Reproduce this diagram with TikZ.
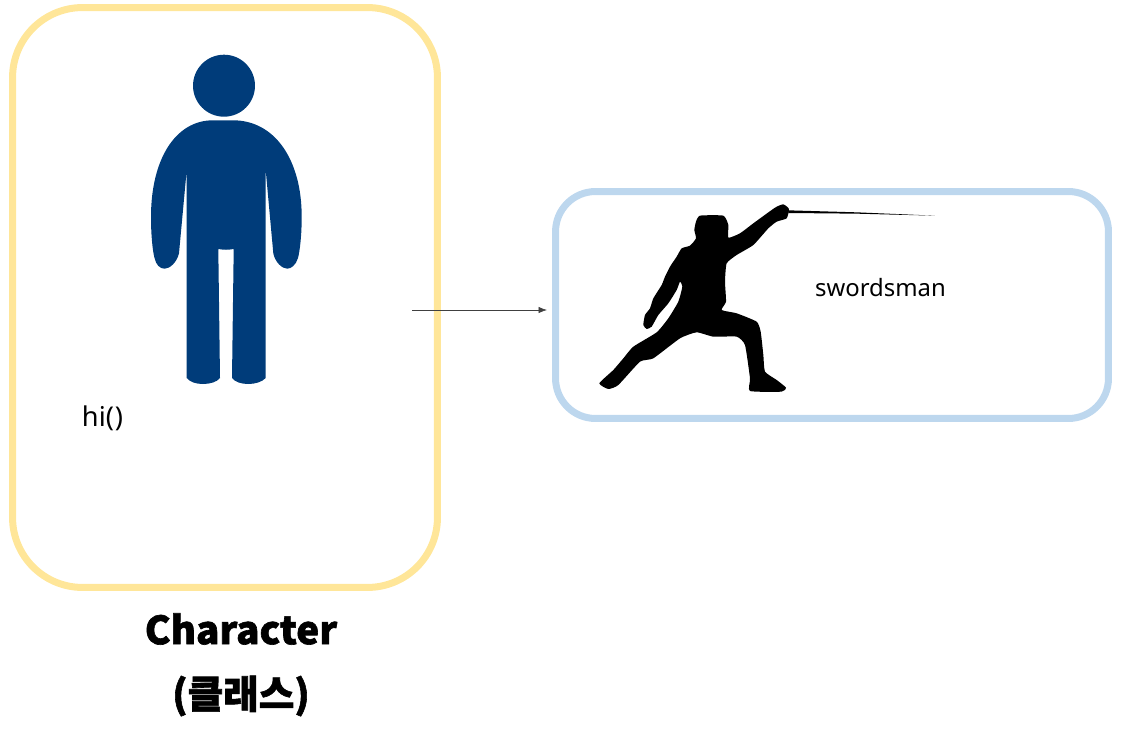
\documentclass[tikz,border=0pt]{standalone}
\usepackage{fontspec}
\setmainfont{Noto Sans}
\newfontfamily\cjk[BoldFeatures={FakeBold=1.6}]{Noto Sans CJK KR}
\usetikzlibrary{arrows.meta}
\definecolor{boxyellow}{HTML}{FFE699}
\definecolor{boxblue}{HTML}{BDD7EE}
\definecolor{personblue}{HTML}{003C7A}
\tikzset{
    roundbox/.style={draw, line width=0.14cm, fill=none, inner sep=0pt},
    plainlabel/.style={font=\fontsize{13.6}{17}\selectfont, inner sep=0pt},
    titlelabel/.style={font=\cjk\bfseries\fontsize{22}{26}\selectfont, inner sep=0pt}
}
\begin{document}
\begin{tikzpicture}[x=0.02cm, y=-0.02cm, >=Latex]
    \useasboundingbox (0,0) rectangle (1125,733);

    % --- Klasse links ---
    \node[roundbox, draw=boxyellow, rounded corners=1.4cm, minimum width=8.5cm, minimum height=11.6cm] (classbox) at (225,297.5) {};

    % Kopf und Koerper
    \fill[personblue] (224,85.7) circle (0.62cm);
    \fill[personblue] (213,120.3) -- (233,120.3)
        .. controls (275,120.3) and (301.7,160) .. (301.7,216.7)
        .. controls (301.7,235) and (300,250) .. (298,258)
        .. controls (296,265) and (291,268.7) .. (287.3,268.7)
        .. controls (282,268.7) and (275,262) .. (273.3,253.3)
        -- (265.7,170) -- (265.7,378)
        .. controls (262,382) and (255,384) .. (248.3,384)
        .. controls (241,384) and (235,382) .. (232,378)
        -- (233.7,249) .. controls (228,250) and (224,250) .. (218.3,249)
        -- (220,378)
        .. controls (217,382) and (210,384) .. (203,384)
        .. controls (196,384) and (190,382) .. (186.7,378)
        -- (186.7,170) -- (179,253.3)
        .. controls (177,262) and (170,268.7) .. (164.7,268.7)
        .. controls (160,268.7) and (156,265) .. (154.5,258)
        .. controls (152.5,250) and (151,235) .. (151,216.7)
        .. controls (151,160) and (175,120.3) .. (213,120.3) -- cycle;

    \node[plainlabel, font=\fontsize{15.5}{18}\selectfont] (hilabel) at (102.5,418) {hi(\kern0.5pt)};
    \node[titlelabel] (titlename) at (241,629) {Character};
    \node[titlelabel] (titlekind) at (241,696) {(클래스)};

    % --- Objekt rechts ---
    \node[roundbox, draw=boxblue, rounded corners=0.8cm, minimum width=11.06cm, minimum height=4.54cm] (swordbox) at (832,305) {};

    % Fechter
    \begin{scope}[shift={(590,195)}, x=0.00667cm, y=-0.00667cm]
        \fill[black] plot[smooth cycle, tension=0.3] coordinates {
            (330,62) (400,62) (415,90) (415,128) (450,115) (490,85) (555,38) (580,28)
            (597,42) (590,70) (560,80) (535,100) (490,150) (440,180) (410,205) (405,260)
            (408,320) (395,345) (440,355) (500,380) (512,410) (520,480) (525,530) (560,555)
            (588,578) (575,590) (480,588) (480,550) (465,450) (440,425) (370,425) (320,412)
            (270,430) (190,490) (150,500) (85,570) (55,582) (28,565) (70,525) (100,490)
            (130,455) (200,412) (235,370) (265,320) (277,275) (270,260) (260,285) (235,325)
            (205,360) (185,395) (170,402) (160,390) (165,360) (180,340) (190,310) (215,270)
            (225,245) (240,215) (260,185) (275,160) (300,152) (318,130) (313,105) (318,80)};
        % Klinge
        \fill[black] (595,46) -- (800,52) -- (1035,62) -- (800,56) -- (595,54) -- cycle;
    \end{scope}

    \node[plainlabel] (swordlabel) at (880.5,288) {swordsman};

    % --- Pfeil ---
    \coordinate (arrowstart) at (412,310);
    \coordinate (arrowend) at (547,310);
    \draw[->, draw=black!75, line width=0.4pt] (arrowstart) -- (arrowend);
\end{tikzpicture}
\end{document}
